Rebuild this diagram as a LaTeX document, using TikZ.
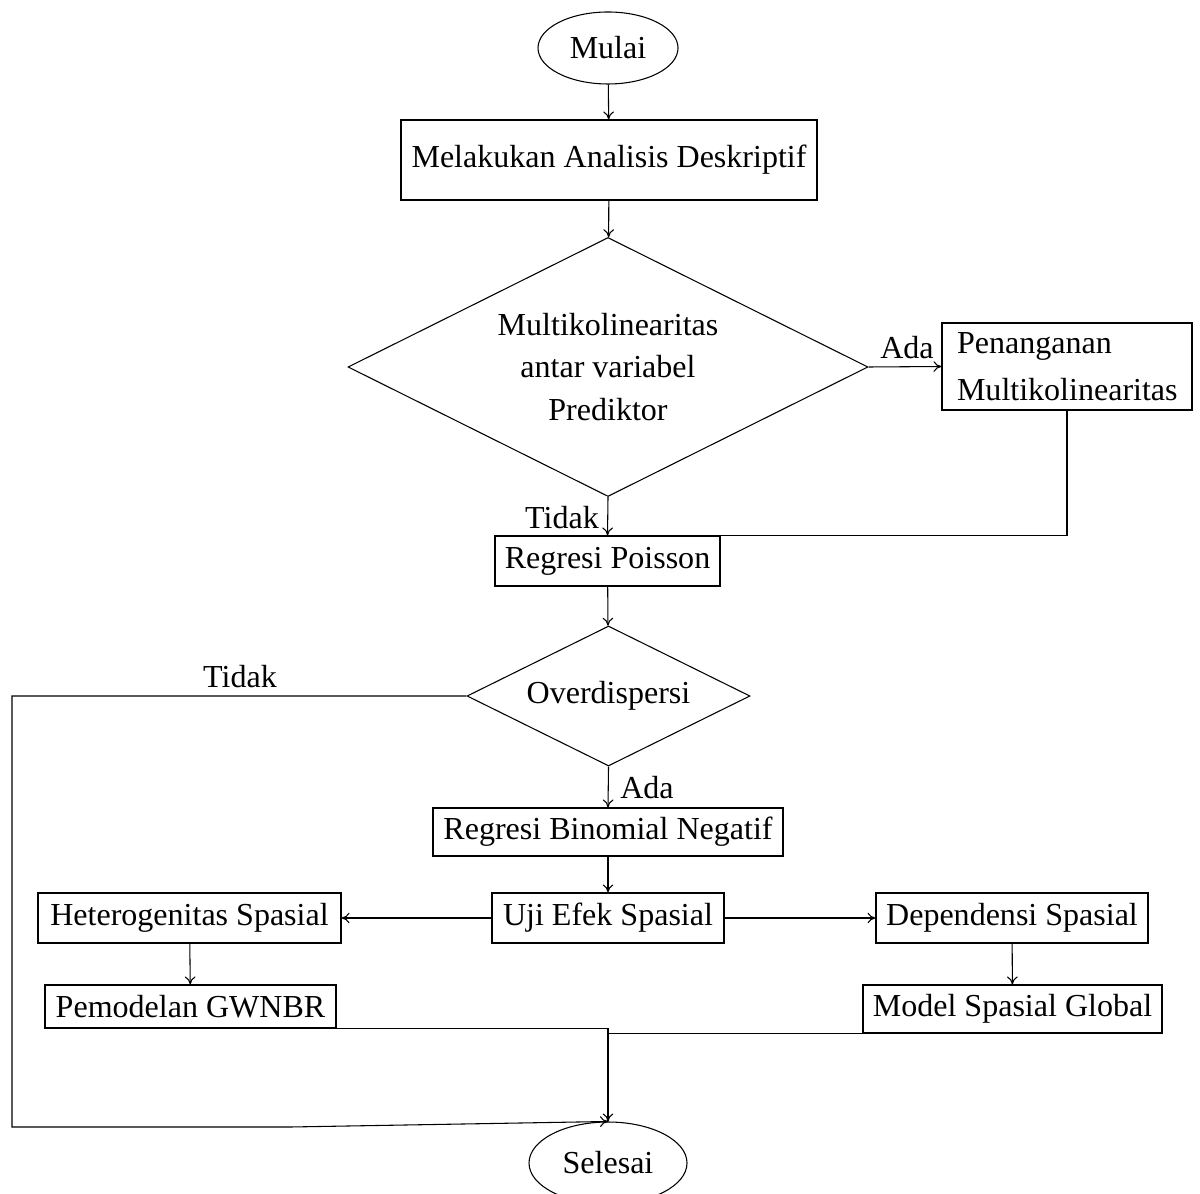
\documentclass[tikz,border=0pt]{standalone}
\usepackage{fontspec}
\setmainfont{Liberation Serif}
\usetikzlibrary{shapes.geometric,arrows.meta}
\begin{document}
\begin{tikzpicture}[x=0.3747pt,y=-0.3747pt,
  every node/.style={font=\fontsize{12}{16}\selectfont},
  boxn/.style={draw,rectangle,inner sep=0pt},
  ellip/.style={draw,ellipse,inner sep=0pt},
  dia/.style={draw,diamond,shape aspect=2,inner sep=0pt,align=center},
  lbl/.style={inner sep=0pt},
  arr/.style={-{To[length=3pt,width=4pt]}},
  ln/.style={}]
\useasboundingbox (0,0) rectangle (1200,1194);
\node[ellip,minimum width=140*0.3747pt,minimum height=72*0.3747pt] (mulai) at (608,48) {Mulai};
\node[boxn,minimum width=416*0.3747pt,minimum height=80*0.3747pt] (desk) at (609,160) {Melakukan Analisis Deskriptif};
\node[dia,minimum width=520*0.3747pt,minimum height=259*0.3747pt,font=\fontsize{12}{15.9}\selectfont] (multi) at (608,367) {Multikolinearitas\\antar variabel\\Prediktor};
\node[boxn,minimum width=250*0.3747pt,minimum height=87*0.3747pt,text width=220*0.3747pt,align=left,font=\fontsize{12}{17.6}\selectfont] (pen) at (1067,366.5) {Penanganan\\Multikolinearitas};
\node[lbl] (ada1) at (907,348) {Ada};
\node[boxn,minimum width=225*0.3747pt,minimum height=50*0.3747pt] (poisson) at (607.5,561) {Regresi Poisson};
\node[lbl] (tidak1) at (562,518) {Tidak};
\node[dia,minimum width=283*0.3747pt,minimum height=140*0.3747pt] (ovd) at (608.5,696) {Overdispersi};
\node[lbl] (tidak2) at (240,677) {Tidak};
\node[lbl] (ada2) at (647,788) {Ada};
\node[boxn,minimum width=350*0.3747pt,minimum height=48*0.3747pt] (binom) at (608,832) {Regresi Binomial Negatif};
\node[boxn,minimum width=232*0.3747pt,minimum height=50*0.3747pt] (uji) at (608,918) {Uji Efek Spasial};
\node[boxn,minimum width=303*0.3747pt,minimum height=50*0.3747pt] (het) at (189.5,918) {Heterogenitas Spasial};
\node[boxn,minimum width=272*0.3747pt,minimum height=50*0.3747pt] (dep) at (1012,918) {Dependensi Spasial};
\node[boxn,minimum width=291*0.3747pt,minimum height=43*0.3747pt] (gwnbr) at (190.5,1006.5) {Pemodelan GWNBR};
\node[boxn,minimum width=299*0.3747pt,minimum height=48*0.3747pt] (msg) at (1012.5,1009) {Model Spasial Global};
\node[ellip,minimum width=158*0.3747pt,minimum height=82*0.3747pt] (selesai) at (608,1163) {Selesai};
\coordinate (c1) at (12,696);
\coordinate (c2) at (12,1127);
\coordinate (c3) at (290,1127);
\draw[arr] (mulai) -- (desk);
\draw[arr] (desk) -- (multi);
\draw[arr] (multi.east) -- (pen.west);
\draw[arr] (multi.south) -- (poisson.north);
\draw[ln] (pen.south) |- (poisson.north);
\draw[arr] (poisson) -- (ovd);
\draw[arr] (ovd.west) -- (c1) -- (c2) -- (c3) -- (selesai.north);
\draw[arr] (ovd.south) -- (binom.north);
\draw[arr] (binom) -- (uji);
\draw[arr] (uji) -- (het);
\draw[arr] (uji) -- (dep);
\draw[arr] (het) -- (gwnbr);
\draw[arr] (dep) -- (msg);
\draw[arr] (gwnbr.south) -| (selesai.north);
\draw[ln] (msg.south) -| (selesai.north);
\end{tikzpicture}
\end{document}
